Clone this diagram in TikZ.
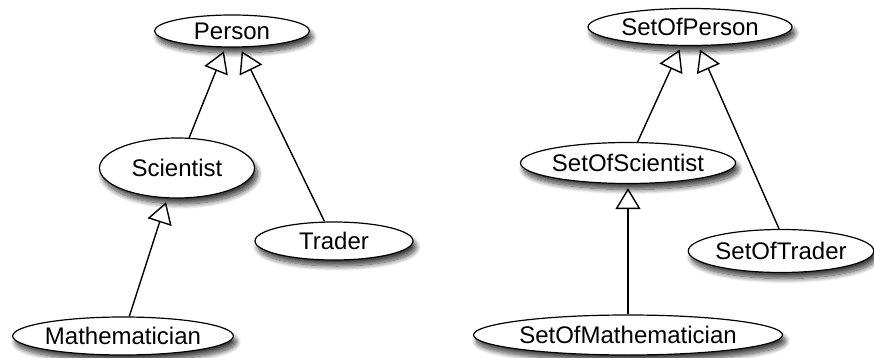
\documentclass[tikz,border=0pt]{standalone}
\usepackage{fontspec}
\setmainfont{Liberation Sans}
\usetikzlibrary{shapes.geometric,arrows.meta,shadows.blur}

\tikzset{
  cls/.style={ellipse, draw, fill=white, line width=1.2pt, inner sep=0pt,
    font=\fontsize{24}{28}\selectfont,
    blur shadow={shadow xshift=3pt, shadow yshift=-6pt, shadow blur radius=5pt,
      shadow blur steps=10, shadow opacity=75}},
  isa/.style={-{Triangle[open,length=21pt,width=25pt]}, line width=1.4pt, shorten >=4pt}
}

\begin{document}
\begin{tikzpicture}[x=1pt,y=-1pt]
\useasboundingbox (0,0) rectangle (874,358);

% plain classes
\node[cls, minimum width=155pt, minimum height=32pt] (person) at (232,31) {Person};
\node[cls, minimum width=155pt, minimum height=60pt] (scientist) at (177,168) {Scientist};
\node[cls, minimum width=158pt, minimum height=38pt] (trader) at (334,241) {Trader};
\node[cls, minimum width=220pt, minimum height=38pt] (mathematician) at (123,336) {Mathematician};

\draw[isa] (scientist) -- (person);
\draw[isa] (trader) -- (person);
\draw[isa] (mathematician) -- (scientist);

% set classes
\node[cls, minimum width=204pt, minimum height=37pt] (setperson) at (690,27) {SetOfPerson};
\node[cls, minimum width=215pt, minimum height=41pt] (setscientist) at (628,163) {SetOfScientist};
\node[cls, minimum width=181pt, minimum height=43pt] (settrader) at (781,251) {SetOfTrader};
\node[cls, minimum width=309pt, minimum height=40pt] (setmathematician) at (628,335) {SetOfMathematician};

\draw[isa] (setscientist) -- (setperson);
\draw[isa] (settrader.95) -- (setperson);
\draw[isa] (setmathematician) -- (setscientist);

\end{tikzpicture}
\end{document}
